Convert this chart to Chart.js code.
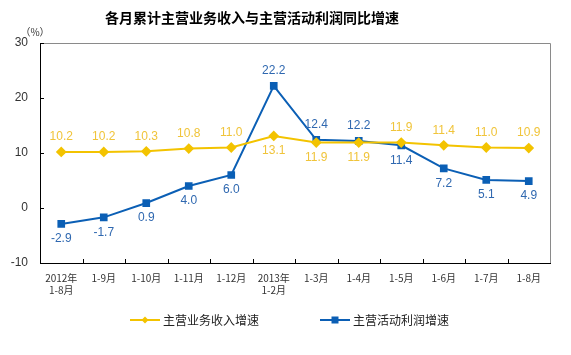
<!DOCTYPE html>
<html>
<head>
<meta charset="utf-8">
<script src="https://cdn.jsdelivr.net/npm/chart.js@4/dist/chart.umd.min.js"></script>
<style>
html,body{margin:0;padding:0;background:#fff;}
#wrap{width:571px;height:355px;position:relative;}
</style>
</head>
<body>
<div id="wrap"><canvas id="c" width="571" height="355"></canvas></div>
<script>
const categories = [["2012年","1-8月"],"1-9月","1-10月","1-11月","1-12月",["2013年","1-2月"],"1-3月","1-4月","1-5月","1-6月","1-7月","1-8月"];
const revenueGrowth = [10.2,10.2,10.3,10.8,11.0,13.1,11.9,11.9,11.9,11.4,11.0,10.9];
const profitGrowth = [-2.9,-1.7,0.9,4.0,6.0,22.2,12.4,12.2,11.4,7.2,5.1,4.9];
const revenueLabelPos = ["up","up","up","up","up","down","down","down","up","up","up","up"];
const profitLabelPos = ["down","down","down","down","down","up","up","up","down","down","down","down"];
const yTicks = [-10,0,10,20,30];
const seriesNames = ["主营业务收入增速","主营活动利润增速"];
const titleText = "各月累计主营业务收入与主营活动利润同比增速";

const YELLOW = "#F3C300";
const YELLOW_TXT = "#F0C43A";
const BLUE = "#0B5FB5";
const BLUE_TXT = "#2F68B0";
const CJK = "'Noto Sans CJK SC','Liberation Sans',sans-serif";
const LAT = "'Liberation Sans','Noto Sans CJK SC',sans-serif";

const decor = {
  id: "decor",
  afterDatasetsDraw(chart) {
    const ctx = chart.ctx;
    const ca = chart.chartArea;
    const xs = chart.scales.x, ys = chart.scales.y;
    ctx.save();
    ctx.strokeStyle = "#8a8a8a";
    ctx.lineWidth = 1;
    ctx.beginPath();
    ctx.moveTo(ca.left, ca.top + 0.5);
    ctx.lineTo(ca.right + 0.5, ca.top + 0.5);
    ctx.lineTo(ca.right + 0.5, ca.bottom);
    ctx.stroke();
    ctx.strokeStyle = "#000";
    ctx.beginPath();
    yTicks.forEach(v => {
      const y = Math.round(ys.getPixelForValue(v)) + 0.5;
      ctx.moveTo(ca.left, y); ctx.lineTo(ca.left + 4, y);
    });
    for (let i = 1; i < categories.length; i++) {
      const x = Math.round((xs.getPixelForValue(i - 1) + xs.getPixelForValue(i)) / 2) + 0.5;
      ctx.moveTo(x, ca.bottom); ctx.lineTo(x, ca.bottom - 4);
    }
    ctx.stroke();
    ctx.font = "12px " + LAT;
    ctx.textAlign = "center";
    ctx.textBaseline = "middle";
    const drawLabels = (dsIndex, vals, pos, color) => {
      const meta = chart.getDatasetMeta(dsIndex);
      ctx.fillStyle = color;
      meta.data.forEach((pt, i) => {
        const dy = pos[i] === "up" ? -15 : 15;
        ctx.fillText(vals[i].toFixed(1), pt.x, pt.y + dy);
      });
    };
    drawLabels(0, revenueGrowth, revenueLabelPos, YELLOW_TXT);
    drawLabels(1, profitGrowth, profitLabelPos, BLUE_TXT);
    ctx.fillStyle = "#000";
    ctx.font = "bold 14px " + CJK;
    ctx.fillText(titleText, 252, 18);
    ctx.font = "10px " + CJK;
    ctx.fillStyle = "#333";
    ctx.fillText("（%）", 35, 32);
    const legendItems = [
      {x: 130, color: YELLOW, style: "diamond", text: seriesNames[0]},
      {x: 320, color: BLUE, style: "square", text: seriesNames[1]}
    ];
    const ly = 320;
    legendItems.forEach(it => {
      ctx.strokeStyle = it.color; ctx.lineWidth = 2;
      ctx.beginPath(); ctx.moveTo(it.x, ly); ctx.lineTo(it.x + 30, ly); ctx.stroke();
      ctx.fillStyle = it.color;
      const cx = it.x + 15;
      ctx.beginPath();
      if (it.style === "diamond") {
        ctx.moveTo(cx, ly - 3.5); ctx.lineTo(cx + 3.5, ly); ctx.lineTo(cx, ly + 3.5); ctx.lineTo(cx - 3.5, ly);
      } else {
        ctx.rect(cx - 3.5, ly - 3.5, 7, 7);
      }
      ctx.closePath(); ctx.fill();
      ctx.fillStyle = "#222";
      ctx.font = "12px " + CJK;
      ctx.textAlign = "left";
      ctx.fillText(it.text, it.x + 33, ly);
    });
    ctx.restore();
  }
};

new Chart(document.getElementById("c"), {
  type: "line",
  data: {
    labels: categories,
    datasets: [
      {label: seriesNames[0], data: revenueGrowth, borderColor: YELLOW, backgroundColor: YELLOW,
       borderWidth: 2, pointStyle: "rectRot", pointRadius: 4, pointHoverRadius: 4, tension: 0},
      {label: seriesNames[1], data: profitGrowth, borderColor: BLUE, backgroundColor: BLUE,
       borderWidth: 2, pointStyle: "rect", pointRadius: 4, pointHoverRadius: 4, tension: 0}
    ]
  },
  options: {
    responsive: false,
    animation: false,
    devicePixelRatio: 1,
    layout: {padding: {left: 0, right: 21, top: 43, bottom: 42}},
    plugins: {legend: {display: false}, title: {display: false}, tooltip: {enabled: false}},
    scales: {
      x: {
        offset: true,
        grid: {display: false, drawTicks: false},
        border: {display: true, color: "#000", width: 1},
        ticks: {color: "#333", font: {family: CJK, size: 10}, padding: 9, maxRotation: 0, autoSkip: false},
        afterFit(s) { s.height = 50; }
      },
      y: {
        min: -10, max: 30,
        afterBuildTicks(s) { s.ticks = yTicks.map(v => ({value: v})); },
        grid: {display: false, drawTicks: false},
        border: {display: true, color: "#000", width: 1},
        ticks: {color: "#333", font: {family: LAT, size: 12}, padding: 12},
        afterFit(s) { s.width = 40; }
      }
    }
  },
  plugins: [decor]
});
</script>
</body>
</html>
